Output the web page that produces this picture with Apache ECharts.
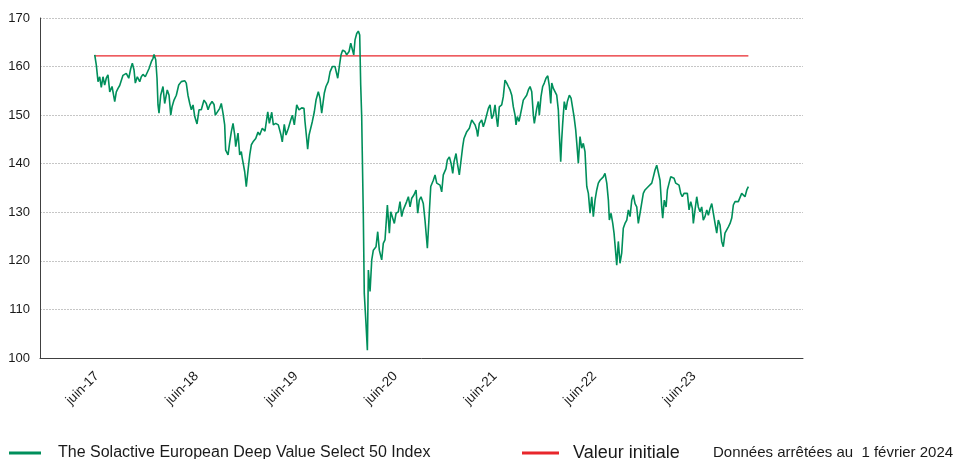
<!DOCTYPE html>
<html>
<head>
<meta charset="utf-8">
<script src="https://cdn.jsdelivr.net/npm/echarts@6/dist/echarts.min.js"></script>
<style>
html,body{margin:0;padding:0;background:#fff;}
#chart{width:958px;height:459px;}
</style>
</head>
<body>
<div id="chart"></div>
<script>
// Dates as decimal years, values of the index
const dates = [
2017.391,2017.407,2017.424,2017.441,2017.457,2017.474,2017.491,2017.507,2017.524,2017.542,
2017.565,2017.592,2017.608,2017.625,2017.642,2017.675,2017.708,2017.733,2017.753,2017.769,
2017.786,2017.799,2017.819,2017.843,2017.859,2017.876,2017.899,2017.919,2017.937,2017.960,
2017.977,2017.987,2018.004,2018.017,2018.027,2018.037,2018.054,2018.077,2018.094,2018.120,
2018.138,2018.155,2018.168,2018.188,2018.211,2018.235,2018.261,2018.295,2018.311,2018.328,
2018.346,2018.362,2018.379,2018.396,2018.419,2018.439,2018.462,2018.489,2018.512,2018.530,
2018.547,2018.570,2018.590,2018.603,2018.623,2018.647,2018.663,2018.680,2018.697,2018.707,
2018.731,2018.748,2018.764,2018.781,2018.798,2018.808,2018.831,2018.848,2018.864,2018.874,
2018.898,2018.914,2018.932,2018.949,2018.965,2018.982,2019.009,2019.032,2019.049,2019.075,
2019.102,2019.130,2019.146,2019.170,2019.186,2019.210,2019.236,2019.263,2019.276,2019.296,
2019.313,2019.337,2019.361,2019.377,2019.397,2019.421,2019.444,2019.471,2019.494,2019.504,
2019.521,2019.531,2019.545,2019.565,2019.578,2019.598,2019.615,2019.638,2019.655,2019.672,
2019.688,2019.698,2019.715,2019.738,2019.756,2019.779,2019.806,2019.823,2019.833,2019.849,
2019.866,2019.883,2019.906,2019.923,2019.947,2019.964,2019.980,2019.994,2020.007,2020.024,
2020.040,2020.054,2020.064,2020.074,2020.077,2020.090,2020.100,2020.117,2020.131,2020.141,
2020.158,2020.175,2020.191,2020.218,2020.235,2020.251,2020.275,2020.291,2020.308,2020.332,
2020.352,2020.366,2020.386,2020.402,2020.419,2020.442,2020.459,2020.476,2020.492,2020.509,
2020.526,2020.543,2020.560,2020.577,2020.600,2020.620,2020.637,2020.653,2020.670,2020.693,
2020.710,2020.734,2020.754,2020.768,2020.794,2020.811,2020.828,2020.844,2020.861,2020.878,
2020.894,2020.921,2020.935,2020.955,2020.972,2020.989,2021.002,2021.022,2021.035,2021.055,
2021.069,2021.089,2021.102,2021.130,2021.156,2021.180,2021.196,2021.213,2021.230,2021.240,
2021.256,2021.280,2021.296,2021.313,2021.331,2021.347,2021.364,2021.381,2021.397,2021.414,
2021.431,2021.441,2021.457,2021.481,2021.497,2021.514,2021.532,2021.548,2021.565,2021.582,
2021.598,2021.615,2021.625,2021.638,2021.655,2021.665,2021.682,2021.698,2021.715,2021.732,
2021.749,2021.766,2021.783,2021.799,2021.809,2021.833,2021.849,2021.859,2021.876,2021.893,
2021.909,2021.926,2021.944,2021.960,2021.974,2021.984,2022.000,2022.017,2022.034,2022.050,
2022.060,2022.074,2022.084,2022.094,2022.110,2022.127,2022.141,2022.161,2022.178,2022.195,
2022.208,2022.225,2022.241,2022.251,2022.268,2022.285,2022.301,2022.318,2022.336,2022.352,
2022.369,2022.386,2022.402,2022.419,2022.436,2022.452,2022.469,2022.486,2022.502,2022.519,
2022.537,2022.553,2022.563,2022.580,2022.597,2022.610,2022.627,2022.637,2022.653,2022.670,
2022.687,2022.703,2022.720,2022.738,2022.754,2022.771,2022.788,2022.804,2022.821,2022.838,
2022.854,2022.871,2022.888,2022.904,2022.921,2022.939,2022.955,2022.972,2022.989,2023.005,
2023.022,2023.039,2023.055,2023.072,2023.089,2023.099,2023.115,2023.133,2023.146,2023.163,
2023.180,2023.196,2023.213,2023.230,2023.246,2023.263,2023.280,2023.296,2023.313,2023.331,
2023.347,2023.364,2023.381,2023.397,2023.407,2023.424,2023.441,2023.457,2023.474,2023.491,
2023.507,2023.524,2023.542,2023.558,2023.575,2023.592,2023.608,2023.625,2023.642,2023.658,
2023.675,2023.692,2023.708,2023.725,2023.743,2023.759,2023.776,2023.793,2023.809,2023.826,
2023.843,2023.859,2023.876,2023.893,2023.909,2023.926,2023.944,2023.960
];
const indexValues = [
162.4,160.3,156.9,157.9,155.7,157.9,156.2,157.6,158.3,154.8,
155.9,152.8,154.8,155.5,156.1,158.2,158.6,157.6,159.6,160.7,
159.3,156.6,157.9,156.9,157.9,158.4,157.9,157.8,159.6,161.0,
161.7,162.5,161.4,157.6,152.1,150.4,154.1,155.9,152.4,155.2,
154.1,150.0,151.7,153.1,154.1,156.2,156.9,157.1,156.6,154.1,
152.4,151.1,152.1,149.7,148.2,151.1,151.1,153.1,152.4,151.1,
152.1,152.8,152.2,150.0,150.4,151.4,152.4,150.4,148.0,142.8,
141.8,144.5,146.6,148.3,145.9,143.5,146.3,141.8,142.5,141.1,
138.4,135.3,138.7,141.8,143.9,144.5,145.2,146.5,145.9,147.3,
146.7,150.7,148.3,150.6,148.0,148.3,148.0,145.9,144.5,148.1,
145.9,147.3,149.0,150.0,148.0,152.1,151.1,151.5,151.4,148.7,
145.2,143.0,145.9,145.6,148.7,150.7,153.1,154.8,153.5,150.4,
150.7,154.5,155.9,156.9,158.9,160.0,160.0,160.3,157.6,160.0,
162.4,163.4,163.1,162.4,163.1,164.8,165.1,162.4,165.5,166.8,
167.3,166.5,156.2,149.7,145.6,129.8,113.3,107.1,101.6,118.1,
113.7,120.2,122.2,122.9,126.0,122.2,120.2,123.6,124.3,131.5,
125.7,130.1,130.1,127.7,129.8,130.1,132.2,129.1,130.5,130.1,
132.2,133.2,131.1,132.9,133.6,134.6,129.8,132.5,133.2,131.8,
128.4,122.6,130.1,135.3,136.6,137.7,136.0,136.3,135.6,134.2,
137.7,139.0,140.8,141.4,140.1,138.0,140.4,142.1,140.1,137.7,
140.1,143.5,145.2,146.6,147.3,149.0,149.3,148.0,146.9,145.6,
148.3,149.0,147.6,148.7,149.0,151.4,152.1,149.3,150.0,152.1,
149.0,147.6,151.7,152.1,153.8,157.2,156.6,155.9,155.2,154.1,
151.7,150.0,148.0,149.7,148.7,149.0,151.4,153.1,153.5,154.1,
155.2,155.9,154.8,150.0,148.3,151.4,152.8,150.0,153.8,155.9,
156.6,157.6,158.1,155.9,152.4,156.6,155.5,155.9,154.1,151.1,
146.3,140.4,144.9,148.3,152.8,151.1,152.8,154.1,153.5,153.1,
149.7,146.9,142.8,140.1,145.6,143.2,144.2,142.5,135.3,133.9,
129.8,133.2,129.1,132.5,134.6,136.0,136.6,137.0,137.3,138.0,
136.0,132.5,128.4,129.8,127.7,125.7,121.6,119.1,124.0,119.5,
121.6,126.7,127.7,128.4,130.5,129.1,132.5,133.6,131.8,131.1,
127.7,129.8,129.4,133.9,134.6,134.6,135.3,135.6,136.0,137.3,
138.7,139.7,139.4,136.6,131.1,128.8,132.5,131.1,134.6,136.0,
137.3,137.7,137.0,136.0,136.3,135.6,133.9,133.2,133.9,133.6,
133.9,130.5,132.2,130.8,127.7,130.5,133.2,131.1,130.1,131.1,
128.4,129.1,130.5,129.4,130.8,131.8,132.2,127.7,125.7,128.4,
127.4,124.0,122.9,125.7,125.3,127.0,127.7,128.8,131.5,132.2,
131.8,132.2,132.5,133.9,134.2,133.2,134.6,135.3
];
const initialDates = [2017.391, 2023.960];
const initialValues = [162.2, 162.2];
const tickPositions = [2017.414, 2018.414, 2019.414, 2020.414, 2021.414, 2022.414, 2023.414];
const tickLabels = ['juin-17','juin-18','juin-19','juin-20','juin-21','juin-22','juin-23'];
const seriesNames = ['The Solactive European Deep Value Select 50 Index', 'Valeur initiale'];
const noteText = 'Données arrêtées au  1 février 2024';

const FONT = '"Liberation Sans", Arial, sans-serif';
const chart = echarts.init(document.getElementById('chart'), null, {renderer: 'canvas'});
chart.setOption({
  animation: false,
  backgroundColor: '#ffffff',
  textStyle: {fontFamily: FONT},
  grid: {left: 40, top: 18, right: 155, bottom: 101, containLabel: false},
  title: {
    text: noteText, left: 708, top: 440,
    textStyle: {fontFamily: FONT, fontSize: 15, fontWeight: 'normal', color: '#1a1a1a'}
  },
  legend: [
    {
      data: [seriesNames[0]], left: 4, top: 440, icon: 'rect',
      itemWidth: 32, itemHeight: 3,
      textStyle: {fontFamily: FONT, fontSize: 16, color: '#1a1a1a', padding: [0, 0, 0, 12]}
    },
    {
      data: [seriesNames[1]], left: 517, top: 439, icon: 'rect',
      itemWidth: 37, itemHeight: 3,
      textStyle: {fontFamily: FONT, fontSize: 18, color: '#1a1a1a', padding: [0, 0, 0, 9]}
    }
  ],
  xAxis: {
    type: 'value',
    min: 2016.841, max: 2024.509,
    axisLine: {show: true, lineStyle: {color: '#404040', width: 1}},
    axisTick: {show: false, customValues: tickPositions},
    splitLine: {show: false},
    axisLabel: {
      customValues: tickPositions,
      rotate: 45, margin: 16, fontSize: 13.5, color: '#1a1a1a', fontFamily: FONT,
      formatter: function (v) {
        const i = tickPositions.findIndex(p => Math.abs(p - v) < 0.01);
        return i >= 0 ? tickLabels[i] : '';
      }
    }
  },
  yAxis: {
    type: 'value', min: 100, max: 170, interval: 10,
    axisLine: {show: true, lineStyle: {color: '#404040', width: 1}},
    axisTick: {show: false},
    axisLabel: {fontSize: 13, color: '#1a1a1a', margin: 10, fontFamily: FONT},
    splitLine: {show: true, lineStyle: {color: '#c6c6c6', width: 1, type: [2, 1]}}
  },
  series: [
    {
      name: seriesNames[0], type: 'line', showSymbol: false, symbol: 'none',
      data: dates.map((d, i) => [d, indexValues[i]]),
      lineStyle: {color: '#008f5b', width: 1.6},
      itemStyle: {color: '#008f5b'},
      z: 3
    },
    {
      name: seriesNames[1], type: 'line', showSymbol: false, symbol: 'none',
      data: initialDates.map((d, i) => [d, initialValues[i]]),
      lineStyle: {color: '#e8262b', width: 1.3},
      itemStyle: {color: '#e8262b'},
      z: 2
    }
  ]
});
</script>
</body>
</html>
